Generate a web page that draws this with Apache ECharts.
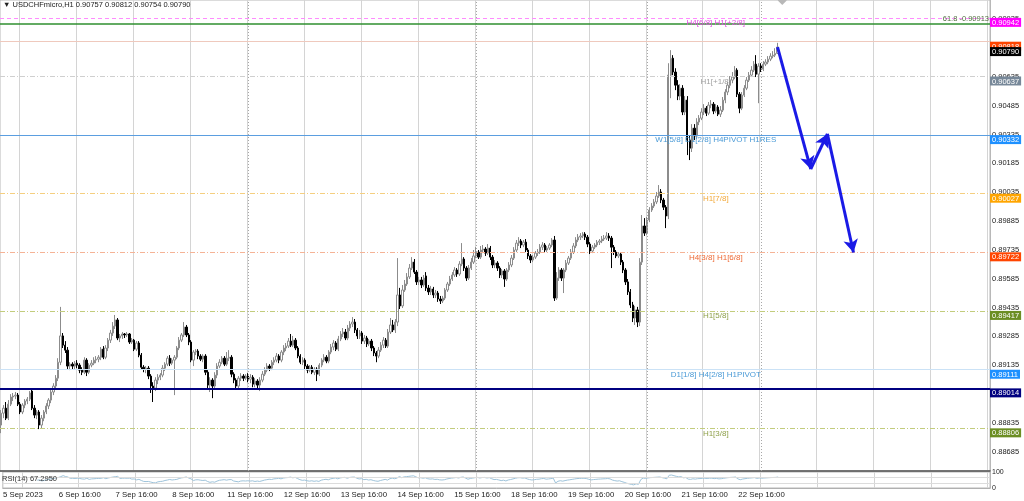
<!DOCTYPE html>
<html><head><meta charset="utf-8">
<script src="https://cdn.jsdelivr.net/npm/echarts@6/dist/echarts.min.js"></script>
<style>html,body{margin:0;padding:0;background:#fff}#c{width:1024px;height:501px}</style>
</head><body><div id="c"></div>
<script>
// ---------------- data ----------------
const symbolName = 'USDCHFmicro,H1';
const rsiText = 'RSI(14) 67.2950';
const tradingDays = ['5 Sep','6 Sep','7 Sep','8 Sep','11 Sep','12 Sep','13 Sep','14 Sep','15 Sep','18 Sep','19 Sep','20 Sep','21 Sep','22 Sep','25 Sep','26 Sep','27 Sep','28 Sep'];
const firstHour = 8;
const slotCount = 417;
const tickIdx = [8,32,56,80,104,128,152,176,200,224,248,272,296,320];
const tickLabels = ['5 Sep 2023','6 Sep 16:00','7 Sep 16:00','8 Sep 16:00','11 Sep 16:00','12 Sep 16:00','13 Sep 16:00','14 Sep 16:00','15 Sep 16:00','18 Sep 16:00','19 Sep 16:00','20 Sep 16:00','21 Sep 16:00','22 Sep 16:00'];
const sepIdx = [104,200,272,320];
const yTicks = [0.88685,0.88835,0.88985,0.89135,0.89285,0.89435,0.89585,0.89735,0.89885,0.90035,0.90185,0.90335,0.90485,0.90635,0.90785,0.90935];
const rsiTicks = [0, 30, 70, 100];

// candles: [open, close, low, high]
const sep05 = [
[0.88823,0.88885,0.88781,0.88901],[0.88885,0.88911,0.88859,0.88927],[0.88911,0.88859,0.88849,0.88943],[0.88859,0.88932,0.88849,0.88953],
[0.88932,0.88969,0.88922,0.88984],[0.88969,0.88974,0.88948,0.88990],[0.88974,0.88979,0.88958,0.88995],[0.88979,0.88932,0.88922,0.88990],
[0.88932,0.88891,0.88880,0.88943],[0.88891,0.88927,0.88880,0.88937],[0.88927,0.88948,0.88911,0.88958],[0.88948,0.88958,0.88932,0.88969],
[0.88958,0.88990,0.88948,0.89000],[0.89000,0.88911,0.88901,0.89015],[0.88911,0.88875,0.88859,0.88927],[0.88875,0.88891,0.88854,0.88901]];
const sep06 = [
[0.88891,0.88823,0.88802,0.88901],[0.88823,0.88859,0.88807,0.88875],[0.88859,0.88891,0.88843,0.88901],[0.88891,0.88922,0.88880,0.88937],
[0.88922,0.88953,0.88906,0.88963],[0.88953,0.88995,0.88937,0.89010],[0.88995,0.89026,0.88979,0.89041],[0.89026,0.89067,0.89010,0.89083],
[0.89067,0.89150,0.89052,0.89171],[0.89150,0.89287,0.89135,0.89438],[0.89287,0.89239,0.89224,0.89302],[0.89239,0.89213,0.89198,0.89260],
[0.89213,0.89130,0.89114,0.89229],[0.89130,0.89140,0.89109,0.89150],[0.89140,0.89130,0.89114,0.89150],[0.89130,0.89145,0.89114,0.89156],
[0.89145,0.89135,0.89119,0.89161],[0.89135,0.89109,0.89093,0.89145],[0.89109,0.89098,0.89083,0.89124],[0.89098,0.89161,0.89088,0.89176],
[0.89161,0.89098,0.89078,0.89171],[0.89098,0.89135,0.89088,0.89145],[0.89135,0.89145,0.89124,0.89161],[0.89145,0.89161,0.89135,0.89176]];
const sep07 = [
[0.89161,0.89166,0.89145,0.89182],[0.89166,0.89176,0.89150,0.89187],[0.89176,0.89218,0.89161,0.89229],[0.89218,0.89176,0.89166,0.89234],
[0.89176,0.89224,0.89166,0.89239],[0.89224,0.89265,0.89208,0.89276],[0.89265,0.89302,0.89250,0.89318],[0.89302,0.89338,0.89287,0.89359],
[0.89338,0.89370,0.89323,0.89396],[0.89370,0.89276,0.89265,0.89380],[0.89276,0.89287,0.89255,0.89297],[0.89287,0.89297,0.89271,0.89307],
[0.89297,0.89292,0.89276,0.89302],[0.89292,0.89297,0.89281,0.89307],[0.89297,0.89255,0.89245,0.89302],[0.89255,0.89265,0.89245,0.89276],
[0.89265,0.89218,0.89208,0.89271],[0.89218,0.89250,0.89208,0.89260],[0.89250,0.89187,0.89176,0.89260],[0.89187,0.89124,0.89114,0.89198],
[0.89124,0.89114,0.89098,0.89135],[0.89114,0.89119,0.89093,0.89130],[0.89119,0.89078,0.89062,0.89130],[0.89078,0.89026,0.88990,0.89088]];
const sep08 = [
[0.89026,0.89015,0.88943,0.89046],[0.89015,0.89057,0.89000,0.89072],[0.89057,0.89072,0.89036,0.89088],[0.89072,0.89083,0.89057,0.89093],
[0.89083,0.89119,0.89072,0.89135],[0.89119,0.89140,0.89104,0.89150],[0.89140,0.89171,0.89130,0.89182],[0.89171,0.89145,0.89130,0.89187],
[0.89145,0.89161,0.89135,0.89171],[0.89161,0.89176,0.88979,0.89187],[0.89176,0.89224,0.89166,0.89234],[0.89224,0.89265,0.89213,0.89281],
[0.89265,0.89292,0.89255,0.89302],[0.89292,0.89333,0.89281,0.89359],[0.89333,0.89292,0.89281,0.89344],[0.89292,0.89255,0.89239,0.89302],
[0.89255,0.89161,0.89150,0.89265],[0.89161,0.89203,0.89130,0.89213],[0.89203,0.89208,0.89187,0.89218],[0.89208,0.89182,0.89166,0.89218],
[0.89182,0.89166,0.89156,0.89192],[0.89166,0.89182,0.89150,0.89192],[0.89182,0.89098,0.89083,0.89192],[0.89098,0.89031,0.89015,0.89109]];
const sep11 = [
[0.89031,0.89057,0.88995,0.89072],[0.89057,0.89026,0.88963,0.89067],[0.89026,0.89083,0.89015,0.89098],[0.89083,0.89130,0.89067,0.89145],
[0.89130,0.89150,0.89119,0.89166],[0.89150,0.89171,0.89140,0.89182],[0.89171,0.89140,0.89130,0.89182],[0.89140,0.89171,0.89130,0.89203],
[0.89171,0.89176,0.89156,0.89213],[0.89176,0.89088,0.89072,0.89187],[0.89088,0.89057,0.89041,0.89098],[0.89057,0.89026,0.89010,0.89067],
[0.89026,0.89067,0.89015,0.89078],[0.89067,0.89078,0.89052,0.89093],[0.89078,0.89067,0.89052,0.89088],[0.89067,0.89078,0.89057,0.89088],
[0.89078,0.89062,0.89046,0.89093],[0.89062,0.89072,0.89041,0.89088],[0.89072,0.89036,0.89020,0.89083],[0.89036,0.89052,0.89020,0.89067],
[0.89052,0.89031,0.89015,0.89062],[0.89031,0.89057,0.89000,0.89072],[0.89057,0.89088,0.89046,0.89104],[0.89088,0.89109,0.89078,0.89124]];
const sep12 = [
[0.89109,0.89130,0.89098,0.89145],[0.89130,0.89119,0.89104,0.89140],[0.89119,0.89150,0.89109,0.89161],[0.89150,0.89161,0.89135,0.89176],
[0.89161,0.89182,0.89150,0.89198],[0.89182,0.89161,0.89145,0.89192],[0.89161,0.89203,0.89150,0.89213],[0.89203,0.89224,0.89187,0.89239],
[0.89224,0.89234,0.89208,0.89250],[0.89234,0.89260,0.89224,0.89276],[0.89260,0.89239,0.89229,0.89297],[0.89239,0.89265,0.89229,0.89287],
[0.89265,0.89224,0.89213,0.89276],[0.89224,0.89182,0.89171,0.89234],[0.89182,0.89150,0.89140,0.89192],[0.89150,0.89161,0.89135,0.89176],
[0.89161,0.89130,0.89114,0.89171],[0.89130,0.89109,0.89093,0.89140],[0.89109,0.89124,0.89098,0.89135],[0.89124,0.89098,0.89088,0.89135],
[0.89098,0.89114,0.89083,0.89124],[0.89114,0.89088,0.89052,0.89124],[0.89088,0.89135,0.89078,0.89145],[0.89135,0.89161,0.89124,0.89171]];
const sep13 = [
[0.89161,0.89176,0.89150,0.89192],[0.89176,0.89156,0.89145,0.89187],[0.89156,0.89203,0.89145,0.89213],[0.89203,0.89229,0.89192,0.89245],
[0.89229,0.89250,0.89213,0.89265],[0.89250,0.89218,0.89208,0.89260],[0.89218,0.89271,0.89208,0.89287],[0.89271,0.89297,0.89260,0.89312],
[0.89297,0.89307,0.89281,0.89328],[0.89307,0.89276,0.89265,0.89323],[0.89276,0.89328,0.89265,0.89344],[0.89328,0.89349,0.89312,0.89364],
[0.89349,0.89359,0.89333,0.89385],[0.89359,0.89318,0.89302,0.89375],[0.89318,0.89287,0.89271,0.89328],[0.89287,0.89302,0.89271,0.89318],
[0.89302,0.89260,0.89245,0.89312],[0.89260,0.89276,0.89245,0.89292],[0.89276,0.89245,0.89229,0.89287],[0.89245,0.89260,0.89234,0.89271],
[0.89260,0.89224,0.89208,0.89271],[0.89224,0.89198,0.89182,0.89234],[0.89198,0.89182,0.89150,0.89208],[0.89182,0.89213,0.89171,0.89229]];
const sep14 = [
[0.89213,0.89239,0.89203,0.89255],[0.89239,0.89265,0.89224,0.89281],[0.89265,0.89234,0.89224,0.89276],[0.89234,0.89307,0.89224,0.89323],
[0.89307,0.89344,0.89297,0.89380],[0.89344,0.89318,0.89307,0.89370],[0.89318,0.89359,0.89302,0.89375],[0.89359,0.89500,0.89338,0.89692],
[0.89500,0.89443,0.89427,0.89537],[0.89443,0.89526,0.89432,0.89552],[0.89526,0.89557,0.89516,0.89578],[0.89557,0.89594,0.89547,0.89614],
[0.89594,0.89640,0.89583,0.89661],[0.89640,0.89671,0.89630,0.89697],[0.89671,0.89619,0.89609,0.89687],[0.89619,0.89568,0.89552,0.89630],
[0.89568,0.89578,0.89552,0.89594],[0.89578,0.89552,0.89536,0.89594],[0.89552,0.89588,0.89542,0.89604],[0.89599,0.89536,0.89521,0.89619],
[0.89536,0.89516,0.89500,0.89552],[0.89516,0.89531,0.89500,0.89547],[0.89531,0.89500,0.89484,0.89542],[0.89500,0.89510,0.89484,0.89526]];
const sep15 = [
[0.89510,0.89479,0.89464,0.89521],[0.89479,0.89469,0.89453,0.89495],[0.89469,0.89484,0.89458,0.89495],[0.89484,0.89526,0.89474,0.89536],
[0.89526,0.89557,0.89516,0.89568],[0.89557,0.89583,0.89547,0.89599],[0.89583,0.89604,0.89573,0.89619],[0.89604,0.89630,0.89594,0.89645],
[0.89630,0.89609,0.89594,0.89640],[0.89609,0.89661,0.89599,0.89676],[0.89661,0.89687,0.89650,0.89770],[0.89687,0.89640,0.89625,0.89697],
[0.89640,0.89588,0.89573,0.89650],[0.89588,0.89640,0.89578,0.89656],[0.89640,0.89671,0.89630,0.89692],[0.89671,0.89703,0.89661,0.89734],
[0.89703,0.89723,0.89692,0.89749],[0.89723,0.89697,0.89687,0.89734],[0.89697,0.89734,0.89687,0.89755],[0.89734,0.89739,0.89718,0.89760],
[0.89739,0.89718,0.89703,0.89749],[0.89718,0.89744,0.89708,0.89765],[0.89744,0.89697,0.89682,0.89755],[0.89697,0.89656,0.89640,0.89708]];
const sep18 = [
[0.89656,0.89666,0.89640,0.89682],[0.89666,0.89640,0.89625,0.89676],[0.89640,0.89604,0.89588,0.89650],[0.89604,0.89625,0.89588,0.89635],
[0.89625,0.89583,0.89542,0.89635],[0.89583,0.89630,0.89573,0.89640],[0.89630,0.89656,0.89619,0.89671],[0.89656,0.89692,0.89645,0.89708],
[0.89692,0.89734,0.89682,0.89749],[0.89734,0.89770,0.89723,0.89786],[0.89770,0.89781,0.89755,0.89801],[0.89781,0.89760,0.89744,0.89791],
[0.89760,0.89775,0.89749,0.89786],[0.89775,0.89734,0.89723,0.89791],[0.89734,0.89703,0.89687,0.89744],[0.89703,0.89682,0.89666,0.89713],
[0.89682,0.89697,0.89671,0.89708],[0.89697,0.89718,0.89687,0.89729],[0.89718,0.89723,0.89703,0.89739],[0.89723,0.89749,0.89713,0.89765],
[0.89749,0.89760,0.89734,0.89775],[0.89760,0.89734,0.89723,0.89770],[0.89734,0.89744,0.89723,0.89755],[0.89744,0.89760,0.89734,0.89770]];
const sep19 = [
[0.89760,0.89786,0.89749,0.89796],[0.89786,0.89484,0.89469,0.89807],[0.89484,0.89588,0.89474,0.89619],[0.89588,0.89630,0.89573,0.89645],
[0.89630,0.89588,0.89573,0.89640],[0.89588,0.89630,0.89510,0.89640],[0.89630,0.89666,0.89619,0.89682],[0.89666,0.89692,0.89656,0.89703],
[0.89692,0.89723,0.89682,0.89739],[0.89723,0.89755,0.89713,0.89770],[0.89755,0.89786,0.89744,0.89801],[0.89786,0.89801,0.89775,0.89817],
[0.89801,0.89807,0.89786,0.89822],[0.89807,0.89817,0.89796,0.89827],[0.89817,0.89801,0.89786,0.89827],[0.89801,0.89765,0.89749,0.89812],
[0.89765,0.89729,0.89713,0.89775],[0.89729,0.89749,0.89718,0.89760],[0.89749,0.89760,0.89739,0.89770],[0.89760,0.89775,0.89749,0.89786],
[0.89775,0.89781,0.89760,0.89791],[0.89781,0.89791,0.89770,0.89807],[0.89791,0.89796,0.89781,0.89812],[0.89796,0.89807,0.89786,0.89827]];
const sep20 = [
[0.89807,0.89796,0.89781,0.89822],[0.89796,0.89749,0.89640,0.89807],[0.89749,0.89723,0.89708,0.89760],[0.89723,0.89703,0.89692,0.89734],
[0.89703,0.89713,0.89692,0.89723],[0.89713,0.89671,0.89656,0.89723],[0.89671,0.89630,0.89614,0.89682],[0.89630,0.89568,0.89552,0.89640],
[0.89568,0.89516,0.89500,0.89583],[0.89516,0.89448,0.89432,0.89531],[0.89448,0.89380,0.89359,0.89464],[0.89380,0.89422,0.89344,0.89443],
[0.89422,0.89359,0.89333,0.89438],[0.89359,0.89671,0.89338,0.89692],[0.89671,0.89859,0.89656,0.89916],[0.89859,0.89822,0.89807,0.89900],
[0.89822,0.89890,0.89812,0.89906],[0.89890,0.89942,0.89879,0.89957],[0.89942,0.89963,0.89932,0.89978],[0.89963,0.89984,0.89953,0.89999],
[0.89984,0.90015,0.89973,0.90036],[0.90015,0.90036,0.90005,0.90072],[0.90036,0.89994,0.89978,0.90051],[0.89994,0.89957,0.89942,0.90005]];
const sep21 = [
[0.89957,0.89911,0.89848,0.89968],[0.89911,0.90644,0.89895,0.90706],[0.90644,0.90732,0.90524,0.90774],[0.90732,0.90660,0.90644,0.90748],
[0.90660,0.90592,0.90566,0.90680],[0.90592,0.90535,0.90514,0.90618],[0.90535,0.90576,0.90514,0.90597],[0.90576,0.90452,0.90436,0.90592],
[0.90452,0.90514,0.90436,0.90535],[0.90514,0.90306,0.90228,0.90535],[0.90306,0.90264,0.90202,0.90332],[0.90264,0.90368,0.90244,0.90389],
[0.90368,0.90327,0.90306,0.90389],[0.90327,0.90400,0.90311,0.90420],[0.90400,0.90420,0.90384,0.90436],[0.90420,0.90452,0.90410,0.90472],
[0.90452,0.90472,0.90436,0.90493],[0.90472,0.90446,0.90431,0.90483],[0.90446,0.90488,0.90436,0.90504],[0.90488,0.90493,0.90472,0.90514],
[0.90493,0.90457,0.90441,0.90504],[0.90457,0.90478,0.90446,0.90493],[0.90478,0.90441,0.90431,0.90488],[0.90441,0.90462,0.90426,0.90483]];
const sep22 = [
[0.90462,0.90514,0.90452,0.90530],[0.90514,0.90556,0.90498,0.90571],[0.90556,0.90592,0.90540,0.90608],[0.90592,0.90618,0.90576,0.90639],
[0.90618,0.90634,0.90602,0.90660],[0.90634,0.90670,0.90623,0.90691],[0.90670,0.90545,0.90530,0.90680],[0.90545,0.90472,0.90446,0.90556],
[0.90472,0.90540,0.90462,0.90556],[0.90540,0.90576,0.90530,0.90592],[0.90576,0.90618,0.90566,0.90634],[0.90618,0.90644,0.90608,0.90660],
[0.90644,0.90670,0.90634,0.90691],[0.90670,0.90701,0.90660,0.90717],[0.90701,0.90649,0.90634,0.90748],[0.90649,0.90691,0.90498,0.90706],
[0.90691,0.90675,0.90660,0.90706],[0.90675,0.90701,0.90665,0.90717],[0.90701,0.90712,0.90691,0.90727],[0.90712,0.90727,0.90701,0.90743],
[0.90727,0.90743,0.90717,0.90758],[0.90743,0.90748,0.90732,0.90769],[0.90748,0.90757,0.90738,0.90784],[0.90757,0.90790,0.90754,0.90812]];

// horizontal levels
const levelPrices = [0.90942, 0.90913, 0.90818, 0.90790, 0.90637, 0.90332, 0.90027, 0.89722, 0.89417, 0.89111, 0.89014, 0.88806];
const levelNames  = ['H4[6/8] H1[+2/8]', '61.8 -0.90913', '', '', 'H1[+1/8]', 'W1[5/8] D1[2/8] H4PIVOT H1RES', 'H1[7/8]', 'H4[3/8] H1[6/8]', 'H1[5/8]', 'D1[1/8] H4[2/8] H1PIVOT', '', 'H1[3/8]'];
const levelNameIdx = 301;
// forecast arrow path (bar slot, price)
const arrowIdx = [327, 341, 348, 359];
const arrowPrice = [0.90790, 0.90155, 0.90338, 0.89721];
const markerIdx = 329, markerPrice = 0.91033;

// ---------------- build ----------------
const candles = [].concat(sep05, sep06, sep07, sep08, sep11, sep12, sep13, sep14, sep15, sep18, sep19, sep20, sep21, sep22);
const cats = [];
for (let d = 0; d < tradingDays.length && cats.length < slotCount; d++) {
  for (let h = (d === 0 ? firstHour : 0); h < 24 && cats.length < slotCount; h++) {
    cats.push(tradingDays[d] + ' ' + String(h).padStart(2, '0') + ':00');
  }
}
const labelMap = {};
tickIdx.forEach((ix, k) => { labelMap[ix] = tickLabels[k]; });

// RSI(14), Wilder smoothing of the closes
const closes = candles.map(c => c[1]);
const rsi = closes.map(() => null);
let ag = 0, al = 0;
for (let i = 1; i < closes.length; i++) {
  const ch = closes[i] - closes[i - 1];
  const g = Math.max(ch, 0), l = Math.max(-ch, 0);
  if (i <= 14) { ag += g / 14; al += l / 14; if (i === 14) rsi[i] = al === 0 ? 100 : 100 - 100 / (1 + ag / al); }
  else { ag = (ag * 13 + g) / 14; al = (al * 13 + l) / 14; rsi[i] = al === 0 ? 100 : 100 - 100 / (1 + ag / al); }
}

// styles
const DASH = [5, 2, 1, 2];
const lvlLine = [
  { color: '#ff8cff', type: [4, 3], width: 1 },
  { color: '#2f8f2f', type: 'solid', width: 1.5 },
  { color: '#efc9bd', type: 'solid', width: 1 },
  { color: 'rgba(0,0,0,0)', type: 'solid', width: 1 },
  { color: '#cfcfcf', type: DASH, width: 1 },
  { color: '#5b9ee0', type: 'solid', width: 1 },
  { color: '#f5cf80', type: DASH, width: 1 },
  { color: '#f5b396', type: DASH, width: 1 },
  { color: '#c2cc7c', type: DASH, width: 1 },
  { color: '#cbe2f6', type: 'solid', width: 1 },
  { color: '#000080', type: 'solid', width: 2 },
  { color: '#c2cc7c', type: DASH, width: 1 }
];
const lvlBox = ['#ff00ff', null, '#ff4500', '#000000', '#778899', '#1e90ff', '#ffa500', '#ff4500', '#6b8e23', '#1e90ff', '#000080', '#6b8e23'];
const lvlTextColor = ['#e04ee0', '#4f6f3f', null, null, '#a0a0a0', '#4a9ad6', '#f2a93b', '#ee6a35', '#8fa04a', '#4a9ad6', null, '#8fa04a'];
const FONT = 'Liberation Sans, Arial, sans-serif';

const levelLines = levelPrices.map((p, k) => {
  const item = { yAxis: p, lineStyle: lvlLine[k] };
  if (k === 1) {
    item.label = { show: true, position: 'insideEndTop', distance: 1, formatter: levelNames[k], color: lvlTextColor[k], fontSize: 7.5, fontFamily: FONT };
  } else if (lvlBox[k]) {
    item.label = { show: true, position: 'end', distance: 0, formatter: p.toFixed(5), color: '#fff', backgroundColor: lvlBox[k],
      fontSize: 7.5, fontFamily: FONT, padding: [1, 2, 0, 2], lineHeight: 8, verticalAlign: 'top' };
  } else item.label = { show: false };
  return item;
});
const sepLines = sepIdx.map(ix => ({ xAxis: ix, lineStyle: { color: '#a8a8a8', type: [1, 2], width: 1 }, label: { show: false } }));
const arrowLines = [];
for (let k = 0; k < arrowIdx.length - 1; k++) {
  const ls = { color: '#1a1ae6', width: 3, type: 'solid' };
  arrowLines.push([
    { coord: [arrowIdx[k], arrowPrice[k]], symbol: 'none', lineStyle: ls },
    { coord: [arrowIdx[k + 1], arrowPrice[k + 1]], symbol: 'arrow', symbolSize: [11, 13], lineStyle: ls }
  ]);
}
const namePoints = levelPrices.map((p, k) => ({ p, k })).filter(o => o.k !== 1 && levelNames[o.k]).map(o => ({
  coord: [levelNameIdx, o.p], symbol: 'rect', symbolSize: 1, itemStyle: { color: 'rgba(0,0,0,0)' },
  label: { show: true, position: 'inside', offset: [0, 5], formatter: levelNames[o.k], color: lvlTextColor[o.k], fontSize: 8, fontFamily: FONT }
}));
namePoints.push({ coord: [markerIdx, markerPrice], symbol: 'diamond', symbolSize: [9, 9], itemStyle: { color: '#b8b8b8' }, label: { show: false } });

const last = candles[candles.length - 1];
const header = '\u25BC ' + symbolName + ' ' + [last[0], last[3], last[2], last[1]].map(v => v.toFixed(5)).join(' ');

const gridLineInterval = (i) => (i - tickIdx[0]) % 24 === 0;

const chart = echarts.init(document.getElementById('c'), null, { renderer: 'canvas' });
chart.setOption({
  animation: false,
  backgroundColor: '#ffffff',
  textStyle: { fontFamily: FONT },
  title: [
    { text: header, left: 3, top: 1, padding: 0, textStyle: { fontSize: 7.5, fontWeight: 'normal', color: '#222', fontFamily: FONT } },
    { text: rsiText, left: 2, top: 475, padding: 0, textStyle: { fontSize: 7.5, fontWeight: 'normal', color: '#333', fontFamily: FONT } }
  ],
  grid: [
    { left: 0, right: 34, top: 0, height: 471, show: true, borderColor: '#b8b8b8', borderWidth: 1 },
    { left: 0, right: 34, top: 472, height: 16, show: true, borderColor: '#b8b8b8', borderWidth: 1 }
  ],
  xAxis: [
    { type: 'category', gridIndex: 0, data: cats, boundaryGap: true,
      axisLine: { show: true, lineStyle: { color: '#505050', width: 1.5 } }, axisTick: { show: false }, axisLabel: { show: false },
      splitLine: { show: true, interval: gridLineInterval, lineStyle: { color: '#d4d4d4', width: 1 } } },
    { type: 'category', gridIndex: 1, data: cats, boundaryGap: true,
      axisLine: { show: true, lineStyle: { color: '#b0b0b0', width: 1 } }, axisTick: { show: false },
      axisLabel: { show: true, interval: (i) => labelMap[i] !== undefined, formatter: (v, i) => labelMap[i] || '',
        fontSize: 7.8, color: '#222', margin: 3, fontFamily: FONT, hideOverlap: false },
      splitLine: { show: true, interval: gridLineInterval, lineStyle: { color: '#d4d4d4', width: 1 } } }
  ],
  yAxis: [
    { type: 'value', gridIndex: 0, position: 'right', min: 0.88584, max: 0.91035, scale: true,
      axisLine: { show: true, lineStyle: { color: '#b8b8b8' } }, axisTick: { show: false },
      axisLabel: { show: true, customValues: yTicks, formatter: v => v.toFixed(5), fontSize: 7.5, color: '#222', margin: 2, fontFamily: FONT },
      splitLine: { show: false } },
    { type: 'value', gridIndex: 1, position: 'right', min: 0, max: 100,
      axisLine: { show: true, lineStyle: { color: '#b8b8b8' } }, axisTick: { show: false },
      axisLabel: { show: true, customValues: rsiTicks, fontSize: 7, color: '#222', margin: 2, fontFamily: FONT, showMinLabel: true, showMaxLabel: true, hideOverlap: false },
      splitLine: { show: false } }
  ],
  series: [
    { type: 'candlestick', xAxisIndex: 0, yAxisIndex: 0, data: candles, barWidth: '78%',
      itemStyle: { color: '#ffffff', borderColor: '#8c8c8c', color0: '#000000', borderColor0: '#000000', borderWidth: 1 },
      markLine: { silent: true, symbol: 'none', precision: 5, animation: false, data: sepLines.concat(levelLines, arrowLines) },
      markPoint: { silent: true, animation: false, data: namePoints }
    },
    { type: 'line', xAxisIndex: 1, yAxisIndex: 1, data: rsi, showSymbol: false, symbol: 'none',
      lineStyle: { color: '#9ec3da', width: 1 },
      markLine: { silent: true, symbol: 'none', precision: 2, label: { show: false },
        data: [{ yAxis: 70 }, { yAxis: 30 }], lineStyle: { color: '#dcdcdc', type: 'solid', width: 1 } } }
  ]
});
</script>
</body></html>
